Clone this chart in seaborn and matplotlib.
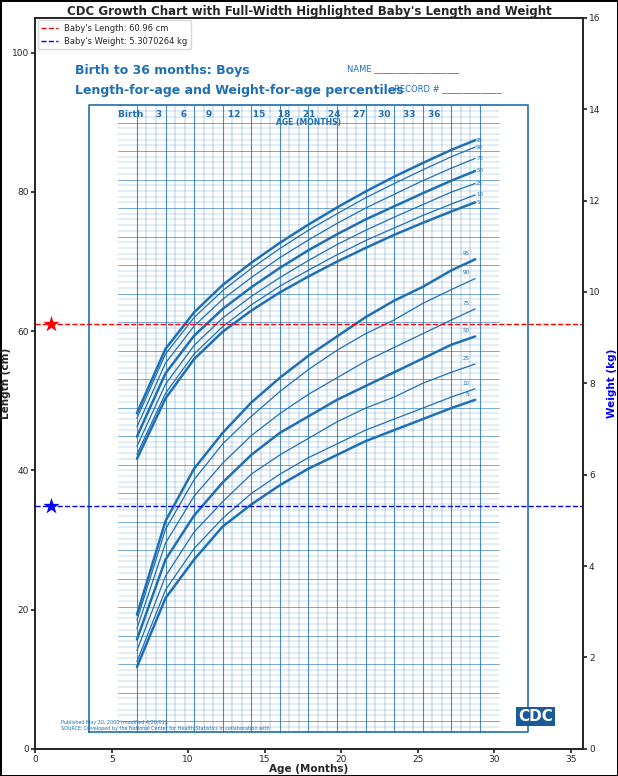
import numpy as np
import matplotlib
matplotlib.use("Agg")
import matplotlib.pyplot as plt
import seaborn as sns

# reading values
baby_age = 1
baby_length = 60.96
baby_weight = 5.3070264

# percentile curves (months, cm / kg)
months = [0, 3, 6, 9, 12, 15, 18, 21, 24, 27, 30, 33, 35.5]
pct_labels = ["5", "10", "25", "50", "75", "90", "95"]
length_pct = [
    [46.0, 56.6, 63.5, 68.3, 72.0, 75.2, 78.0, 80.6, 83.0, 85.3, 87.4, 89.4, 91.0],
    [46.8, 57.5, 64.4, 69.2, 73.0, 76.3, 79.1, 81.8, 84.3, 86.5, 88.7, 90.7, 92.3],
    [48.2, 59.1, 65.9, 70.7, 74.5, 77.8, 80.8, 83.6, 86.1, 88.4, 90.6, 92.8, 94.3],
    [49.9, 61.0, 67.6, 72.3, 76.1, 79.5, 82.6, 85.4, 88.0, 90.3, 92.6, 94.8, 96.5],
    [51.6, 62.8, 69.3, 74.0, 77.8, 81.3, 84.4, 87.3, 90.0, 92.4, 94.8, 97.0, 98.7],
    [53.1, 64.4, 70.8, 75.5, 79.4, 82.9, 86.1, 89.0, 91.8, 94.3, 96.7, 99.0, 100.7],
    [54.0, 65.3, 71.7, 76.5, 80.4, 83.9, 87.1, 90.1, 92.9, 95.5, 97.9, 100.2, 101.9],
]
weight_pct = [
    [2.5, 5.0, 6.4, 7.6, 8.4, 9.1, 9.7, 10.2, 10.7, 11.1, 11.5, 11.9, 12.2],
    [2.7, 5.3, 6.8, 7.9, 8.8, 9.5, 10.1, 10.6, 11.1, 11.5, 11.9, 12.3, 12.6],
    [3.1, 5.8, 7.4, 8.5, 9.5, 10.2, 10.8, 11.4, 11.9, 12.3, 12.8, 13.2, 13.5],
    [3.5, 6.4, 8.0, 9.2, 10.2, 11.0, 11.6, 12.2, 12.7, 13.2, 13.7, 14.2, 14.5],
    [3.9, 7.0, 8.7, 9.9, 10.9, 11.7, 12.4, 13.0, 13.6, 14.1, 14.6, 15.1, 15.5],
    [4.2, 7.5, 9.3, 10.6, 11.6, 12.5, 13.3, 14.0, 14.6, 15.1, 15.7, 16.2, 16.6],
    [4.4, 7.8, 9.7, 11.0, 12.1, 13.0, 13.8, 14.5, 15.2, 15.8, 16.3, 16.9, 17.3],
]

sns.set_theme(style="ticks")
plt.rcParams['font.family'] = ['DejaVu Sans']
blue = "#1f6fb5"

fig = plt.figure(figsize=(6.18, 7.76), dpi=100)
fig.patch.set_edgecolor("black")
fig.patch.set_linewidth(2)

# background chart (simplified CDC sheet)
chart = fig.add_axes([0.089, 0.040, 0.814, 0.924], zorder=1)
chart.set_xlim(-8.6, 44.2)
chart.set_ylim(-4.2, 121.6)
chart.set_facecolor("white")
for s in chart.spines.values():
    s.set_visible(False)
chart.set_xticks([]); chart.set_yticks([])
for m in range(0, 37):
    chart.plot([m, m], [-2, 108], color=blue, lw=0.8 if m % 3 == 0 else 0.3, alpha=0.8)
for c in range(-2, 109):
    chart.plot([-2, 38], [c, c], color=blue, lw=0.6 if c % 5 == 0 else 0.25, alpha=0.7)
chart.plot([-5, 41, 41, -5, -5], [-2, -2, 108, 108, -2], color=blue, lw=1.2)
for i, lab in enumerate(pct_labels):
    lw = 1.8 if lab in ("5", "50", "95") else 0.9
    chart.plot(months, length_pct[i], color=blue, lw=lw)
    chart.text(months[-1] + 0.1, length_pct[i][-1], lab, fontsize=4, color=blue, va="center")
chart.text(-6.5, 113.5, "Birth to 36 months: Boys", fontsize=9, fontweight="bold", color=blue)
chart.text(-6.5, 110, "Length-for-age and Weight-for-age percentiles", fontsize=9, fontweight="bold", color=blue)
chart.text(22, 114, "NAME ____________________", fontsize=6, color=blue)
chart.text(27, 110.5, "RECORD # ______________", fontsize=6, color=blue)
chart.text(18, 104.5, "AGE (MONTHS)", fontsize=5.5, color=blue, fontweight="bold", ha="center")
chart.text(-2, 106, "Birth    3      6      9     12    15    18    21    24    27    30    33    36",
           fontsize=6.5, color=blue, fontweight="bold")
chart.text(-8, -1.5, "Published May 30, 2000 (modified 4/20/01).\nSOURCE: Developed by the National Center for Health Statistics in collaboration with",
           fontsize=3.5, color=blue)
chart.text(40, 0, "CDC", fontsize=11, color="white", fontweight="bold",
           bbox=dict(facecolor="#1b5a9a", edgecolor="none", pad=1.5))

wchart = chart.twinx()
wchart.set_ylim(-0.33, 25.7)
wchart.set_yticks([])
for s in wchart.spines.values():
    s.set_visible(False)
for i, lab in enumerate(pct_labels):
    lw = 1.8 if lab in ("5", "50", "95") else 0.9
    wchart.plot(months, weight_pct[i], color=blue, lw=lw)
    wchart.text(months[-1] - 0.6, weight_pct[i][-1] + 0.15, lab, fontsize=4, color=blue, ha="right")

# main axes on top
ax = fig.add_axes([0.057, 0.035, 0.886, 0.942], zorder=2)
ax.patch.set_alpha(0)
ax.set_xlim(0, 35.8)
ax.set_ylim(0, 105)
ax.set_xticks(range(0, 36, 5))
ax.set_yticks(range(0, 101, 20))
ax.tick_params(labelsize=6.5, pad=1.5, length=3)
ax.set_xlabel("Age (Months)", fontsize=7.5, fontweight="bold", labelpad=0)
ax.set_ylabel("Length (cm)", fontsize=7.5, fontweight="bold")
ax.yaxis.set_label_coords(-0.045, 0.5)
ax.set_title("CDC Growth Chart with Full-Width Highlighted Baby's Length and Weight",
             fontsize=8.5, fontweight="bold", pad=2)

ax2 = ax.twinx()
ax2.set_ylim(0, 16)
ax2.set_yticks(range(0, 17, 2))
ax2.tick_params(labelsize=6.5, pad=1.5, length=3)
ax2.set_ylabel("Weight (kg)", fontsize=7.5, fontweight="bold", color="blue")
ax2.yaxis.set_label_coords(1.045, 0.5)

l1 = ax.axhline(baby_length, color="red", ls="--", lw=1, label=f"Baby's Length: {baby_length} cm")
sns.scatterplot(x=[baby_age], y=[baby_length], ax=ax, marker="*", s=150, color="red",
                linewidth=0, legend=False)
l2 = ax2.axhline(baby_weight, color="blue", ls="--", lw=1, label=f"Baby's Weight: {baby_weight} kg")
sns.scatterplot(x=[baby_age], y=[baby_weight], ax=ax2, marker="*", s=150, color="blue",
                linewidth=0, legend=False)
if ax2.get_legend() is not None:
    ax2.get_legend().remove()
ax.legend(handles=[l1, l2], loc="upper left", fontsize=6, frameon=True, borderaxespad=0.3)

fig.savefig("out.png", dpi=100)
